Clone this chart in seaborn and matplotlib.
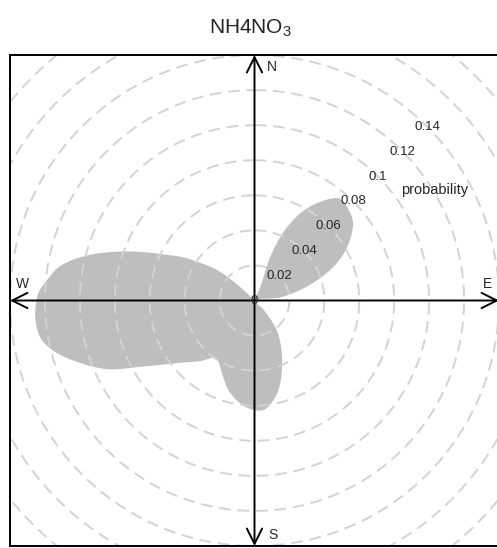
import numpy as np
import pandas as pd
import matplotlib
matplotlib.use("Agg")
import matplotlib.pyplot as plt
import seaborn as sns

# Outline of the probability rose: wind direction (deg, clockwise from N)
# and probability, traced around the shape.
ne_direction = [0, 23, 20, 23, 28, 34, 40, 47, 52, 60, 67, 75, 83, 90]
ne_probability = [0.0, 0.0087, 0.0267, 0.0422, 0.0567, 0.0680, 0.0758,
                  0.0744, 0.0716, 0.0614, 0.0491, 0.0313, 0.0150, 0.0]
sw_direction = [135, 144, 156, 166, 175, 184, 195, 203, 209, 214, 222, 229,
                240, 245, 251, 256, 260, 265, 268, 272, 275, 280, 285, 290,
                294, 297, 301, 309, 313, 360]
sw_probability = [0.0073, 0.0225, 0.0389, 0.0542, 0.0625, 0.0613, 0.0543,
                  0.0465, 0.0415, 0.0395, 0.0465, 0.0539, 0.0757, 0.0927,
                  0.1075, 0.1186, 0.1243, 0.1259, 0.1255, 0.1238, 0.1201,
                  0.1130, 0.0992, 0.0817, 0.0674, 0.0576, 0.0478, 0.0276,
                  0.0113, 0.0]

ring_levels = [0.02, 0.04, 0.06, 0.08, 0.10, 0.12, 0.14, 0.16, 0.18, 0.20]
ring_labels = ["0.02", "0.04", "0.06", "0.08", "0.1", "0.12", "0.14"]
compass = ["N", "E", "S", "W"]
title = "NH4NO$_3$"

sns.set_style("white")
plt.rcParams["font.family"] = ["Liberation Sans", "DejaVu Sans"]
plt.rcParams["mathtext.fontset"] = "custom"
plt.rcParams["mathtext.rm"] = "Liberation Sans"
plt.rcParams["mathtext.it"] = "Liberation Sans:italic"


def smooth_closed(x, y, n=20, alpha=0.5):
    """Closed centripetal Catmull-Rom curve through the outline points."""
    pts = np.column_stack([x, y]).astype(float)
    m = len(pts)
    out = []
    for i in range(m):
        p0, p1, p2, p3 = (pts[(i + k) % m] for k in (-1, 0, 1, 2))
        t0 = 0.0
        t1 = t0 + max(np.linalg.norm(p1 - p0), 1e-6) ** alpha
        t2 = t1 + max(np.linalg.norm(p2 - p1), 1e-6) ** alpha
        t3 = t2 + max(np.linalg.norm(p3 - p2), 1e-6) ** alpha
        t = np.linspace(t1, t2, n, endpoint=False)[:, None]
        a1 = (t1 - t) / (t1 - t0) * p0 + (t - t0) / (t1 - t0) * p1
        a2 = (t2 - t) / (t2 - t1) * p1 + (t - t1) / (t2 - t1) * p2
        a3 = (t3 - t) / (t3 - t2) * p2 + (t - t2) / (t3 - t2) * p3
        b1 = (t2 - t) / (t2 - t0) * a1 + (t - t0) / (t2 - t0) * a2
        b2 = (t3 - t) / (t3 - t1) * a2 + (t - t1) / (t3 - t1) * a3
        out.append((t2 - t) / (t2 - t1) * b1 + (t - t1) / (t2 - t1) * b2)
    out = np.vstack(out)
    return out[:, 0], out[:, 1]


direction = np.radians(np.array(ne_direction + sw_direction, float))
prob = np.array(ne_probability + sw_probability, float)
ox = prob * np.sin(direction)
oy = prob * np.cos(direction)
sx, sy = smooth_closed(ox, oy)

fig = plt.figure(figsize=(4.97, 5.48), dpi=100)
ax = fig.add_axes([10 / 497, 2 / 548, 489 / 497, 491 / 548])
lim = 0.14
ax.set_xlim(-lim, lim)
ax.set_ylim(-lim, lim)
ax.set_xticks([])
ax.set_yticks([])
for sp in ax.spines.values():
    sp.set_color("black")
    sp.set_linewidth(1.4)

ax.fill(sx, sy, color="#bebebe", lw=0, zorder=1)

# dashed probability rings
theta = np.linspace(0, 2 * np.pi, 361)
rings = pd.DataFrame({
    "x": np.concatenate([r * np.sin(theta) for r in ring_levels]),
    "y": np.concatenate([r * np.cos(theta) for r in ring_levels]),
    "ring": np.repeat(ring_levels, len(theta)),
})
sns.lineplot(data=rings, x="x", y="y", units="ring", estimator=None,
             sort=False, color="#d3d3d3", lw=1.4, ax=ax, zorder=2,
             linestyle=(0, (6, 3.5)), legend=False)
ax.set_xlabel("")
ax.set_ylabel("")

# compass axes with open arrow heads
arrow_kw = dict(arrowstyle="<->,head_length=1.1,head_width=0.55",
                color="black", lw=1.4, shrinkA=0, shrinkB=0,
                mutation_scale=10)
ax.annotate("", xy=(0, lim), xytext=(0, -lim), arrowprops=arrow_kw,
            zorder=3, annotation_clip=False)
ax.annotate("", xy=(lim, 0), xytext=(-lim, 0), arrowprops=arrow_kw,
            zorder=3, annotation_clip=False)

lab_pos = {"N": (0.010, 0.1329), "E": (0.1334, 0.0095),
           "S": (0.0106, -0.1340), "W": (-0.1329, 0.0095)}
for c in compass:
    ax.text(*lab_pos[c], c, ha="center", va="center", fontsize=10, zorder=4)

s45 = np.sin(np.pi / 4)
for r, lab in zip(ring_levels, ring_labels):
    ax.text(r * s45, r * s45, lab, ha="center", va="center",
            fontsize=9.5, zorder=4)
ax.text(0, 0, "0", ha="center", va="center", fontsize=9.5, zorder=4)
ax.text(0.103, 0.063, "probability", ha="center", va="center",
        fontsize=10.5, zorder=4)

fig.text(250 / 497, 1 - 28 / 548, title, ha="center", va="center",
         fontsize=15)

fig.savefig("out.png", dpi=100)
